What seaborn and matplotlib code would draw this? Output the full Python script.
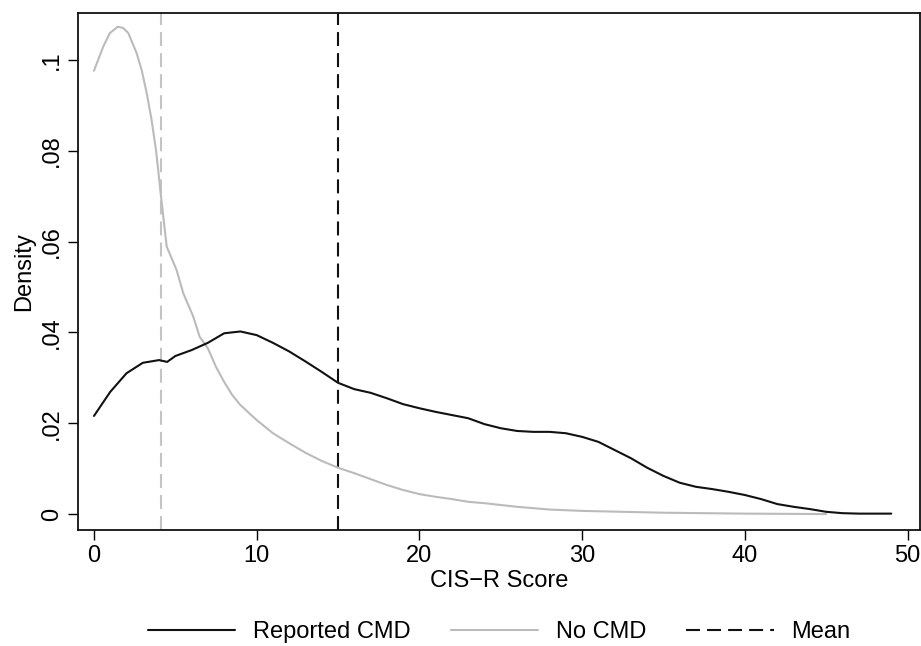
import numpy as np
import pandas as pd
import matplotlib
matplotlib.use("Agg")
import matplotlib.pyplot as plt
from matplotlib.lines import Line2D
import seaborn as sns

# kernel density curves
reported_x = [0, 1, 2, 3, 4, 4.5, 5, 6, 7, 8, 9, 10, 11, 12, 13, 14, 15, 16, 17, 18,
              19, 20, 21, 22, 23, 24, 25, 26, 27, 28, 29, 30, 31, 32, 33, 34, 35, 36,
              37, 38, 39, 40, 41, 42, 43, 44, 45, 46, 47, 48, 49]
reported_y = [0.0216, 0.0269, 0.0310, 0.0333, 0.0339, 0.0335, 0.0348, 0.0361, 0.0377,
              0.0398, 0.0402, 0.0394, 0.0377, 0.0358, 0.0336, 0.0313, 0.0289, 0.0275,
              0.0267, 0.0255, 0.0242, 0.0233, 0.0225, 0.0218, 0.0211, 0.0198, 0.0189,
              0.0183, 0.0181, 0.0181, 0.0178, 0.0170, 0.0159, 0.0141, 0.0123, 0.0102,
              0.0084, 0.0069, 0.0060, 0.0055, 0.0049, 0.0042, 0.0033, 0.0022, 0.0016,
              0.0011, 0.0005, 0.0002, 0.0001, 0.0001, 0.0001]

nocmd_x = [0, 0.57, 0.98, 1.47, 1.8, 2.11, 2.62, 2.93, 3.24, 3.54, 3.81, 3.97, 4.10, 4.47,
           5.08, 5.49, 6.1, 6.5, 7, 7.5, 8, 8.5, 9, 10, 11, 12, 13, 14, 15, 16, 17, 18,
           19, 20, 21, 22, 23, 24, 25, 26, 28, 30, 35, 40, 45]
nocmd_y = [0.0976, 0.1029, 0.1059, 0.1073, 0.1070, 0.1059, 0.1015, 0.0978, 0.0927, 0.0868,
           0.0802, 0.0750, 0.0706, 0.0589, 0.0537, 0.0486, 0.0435, 0.0390, 0.0365,
           0.0324, 0.0291, 0.0262, 0.0240, 0.0207, 0.0178, 0.0156, 0.0135, 0.0117,
           0.0102, 0.0090, 0.0077, 0.0064, 0.0053, 0.0044, 0.0038, 0.0033, 0.0027,
           0.0024, 0.0020, 0.0016, 0.0010, 0.0007, 0.0003, 0.0001, 0.0]

mean_nocmd = 4.1
mean_reported = 15.0

xticks = [0, 10, 20, 30, 40, 50]
yticks = [0, 0.02, 0.04, 0.06, 0.08, 0.1]
ytick_labels = ["0", ".02", ".04", ".06", ".08", ".1"]
legend_labels = ["Reported CMD", "No CMD", "Mean"]

df = pd.concat([
    pd.DataFrame({"score": nocmd_x, "density": nocmd_y, "group": "No CMD"}),
    pd.DataFrame({"score": reported_x, "density": reported_y, "group": "Reported CMD"}),
])

sns.set_theme(style="ticks")
plt.rcParams["font.family"] = ["Liberation Sans", "DejaVu Sans"]
plt.rcParams["text.color"] = "black"
plt.rcParams["axes.labelcolor"] = "black"
plt.rcParams["xtick.color"] = "black"
plt.rcParams["ytick.color"] = "black"
fs = 17
black = "#111111"
gray = "#bbbbbb"
dash = (0, (6.7, 3.4))

fig = plt.figure(figsize=(9.21, 6.46), dpi=100)
ax = fig.add_axes([0.0847, 0.1796, 0.9143, 0.8002])

ax.axvline(mean_nocmd, color="#c4c4c4", lw=1.5, ls=dash, zorder=1)
ax.axvline(mean_reported, color=black, lw=1.5, ls=dash, zorder=1)

sns.lineplot(data=df, x="score", y="density", hue="group",
             palette={"Reported CMD": black, "No CMD": gray},
             estimator=None, sort=False, linewidth=1.5, legend=False, ax=ax)

ax.set_xlim(-0.98, 50.77)
ax.set_ylim(-0.0035, 0.1103)
ax.set_xticks(xticks)
ax.set_xticklabels([str(t) for t in xticks])
ax.set_yticks(yticks)
ax.set_yticklabels(ytick_labels, rotation=90, va="center")
ax.tick_params(length=7, width=1.0, labelsize=fs, pad=4)
ax.set_xlabel("CIS\u2212R Score", fontsize=fs, labelpad=2)
ax.set_ylabel("Density", fontsize=fs, labelpad=4)
for s in ax.spines.values():
    s.set_visible(True)
    s.set_linewidth(1.3)
    s.set_color(black)

handles = [
    Line2D([], [], color=black, lw=1.5),
    Line2D([], [], color=gray, lw=1.5),
    Line2D([], [], color=black, lw=1.5, ls=dash),
]
fig.legend(handles, legend_labels, loc="center", bbox_to_anchor=(0.542, 0.022),
           ncol=3, frameon=False, fontsize=fs, handlelength=3.7,
           handletextpad=0.75, columnspacing=1.7)

fig.savefig("out.png", dpi=100)
